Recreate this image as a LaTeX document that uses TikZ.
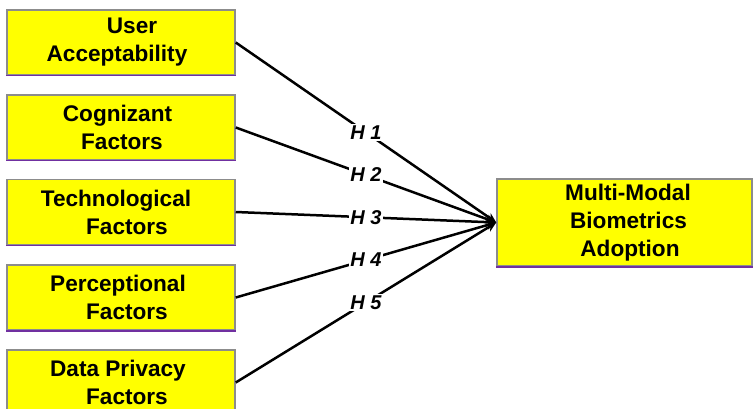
\documentclass[tikz,border=0pt]{standalone}
\usepackage{fontspec}
\setmainfont{Liberation Sans}
\usetikzlibrary{arrows.meta}
\definecolor{boxyellow}{HTML}{FFFF00}
\definecolor{boxgray}{HTML}{8C8C8C}
\definecolor{boxpurple}{HTML}{7030A0}
\newcommand{\sh}[1]{\hspace*{#1}}
\tikzset{
  factor/.style={rectangle, fill=boxyellow, draw=boxgray, line width=1.5pt,
    minimum width=228pt, minimum height=65pt, inner sep=0pt, align=center,
    font=\bfseries\fontsize{22.6}{28}\selectfont},
  outcome/.style={factor, minimum width=255pt, minimum height=87pt},
  link/.style={line width=2.5pt, -{Stealth[length=10pt,width=9pt]}},
  hyp/.style={fill=white, inner sep=1.5pt, font=\bfseries\itshape\fontsize{20}{22}\selectfont},
  purpleedge/.style={draw=boxpurple, line width=1.5pt}
}
\begin{document}
\begin{tikzpicture}[x=1pt,y=-1pt]
\path[use as bounding box] (0,0) rectangle (753,409);
\clip (0,0) rectangle (753,409);
\node[factor] (b1) at (121,42.5) {\sh{22pt}User\\\sh{-8pt}Acceptability};
\node[factor] (b2) at (121,127.5) {\sh{-7pt}Cognizant\\\sh{2pt}Factors};
\node[factor] (b3) at (121,212) {\sh{-10pt}Technological\\\sh{12pt}Factors};
\node[factor] (b4) at (121,297.5) {\sh{-6pt}Perceptional\\\sh{12pt}Factors};
\node[factor] (b5) at (121,382.5) {\sh{-6pt}Data Privacy\\\sh{12pt}Factors};
\node[outcome] (t) at (624.5,222.5) {\sh{7pt}Multi-Modal\\\sh{8pt}Biometrics\\\sh{11pt}Adoption};
\foreach \n in {b1,b2,b3,b4,t}{
  \draw[purpleedge] (\n.south west) -- (\n.south east);
}
\foreach \n/\h in {b1/1,b2/2,b3/3,b4/4,b5/5}{
  \draw[link] (\n.east) -- node[hyp] (h\h) {H \h} (t.west);
}
\end{tikzpicture}
\end{document}
